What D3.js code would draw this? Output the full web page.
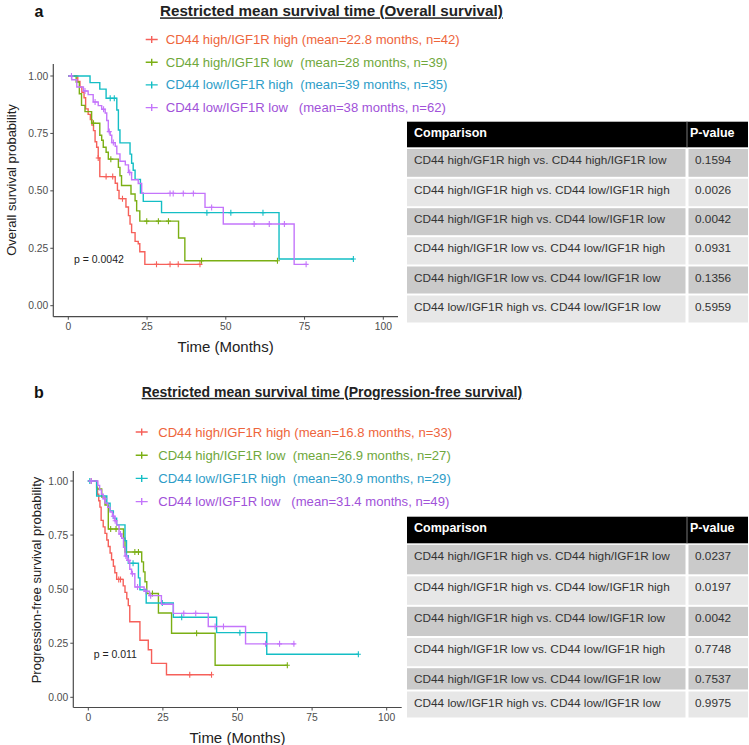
<!DOCTYPE html>
<html><head><meta charset="utf-8">
<script src="https://cdn.jsdelivr.net/npm/d3@7/dist/d3.min.js"></script>
<style>
body{margin:0;background:#fff}
text{font-family:Arial,"Liberation Sans",sans-serif}
</style>
</head><body>
<svg id="c" width="749" height="745"></svg>
<script>
// ---------------- DATA ----------------
const groups = ["CD44 high/IGF1R high", "CD44 high/IGF1R low", "CD44 low/IGF1R high", "CD44 low/IGF1R low"];
const groupGaps = [" ", "  ", "  ", "   "];
const osMeans = ["22.8", "28", "39", "38"];
const osN = [42, 39, 35, 62];
const pfsMeans = ["16.8", "26.9", "30.9", "31.4"];
const pfsN = [33, 27, 29, 49];
const xTicks = [0, 25, 50, 75, 100];
const yTicks = [0, 0.25, 0.5, 0.75, 1];
const yTickLabels = ["0.00", "0.25", "0.50", "0.75", "1.00"];

// Overall survival step curves (time in months, survival after each drop)
const osRedT = [0, 3.0, 3.7, 4.3, 5.0, 5.5, 6.3, 7.0, 7.5, 8.0, 8.5, 9.0, 9.5, 10.0, 14.9, 15.6, 16.1, 18.3, 19.1, 19.6, 20.1, 21.2, 22.2, 22.7, 24.3];
const osRedS = [1, 0.976, 0.952, 0.929, 0.905, 0.857, 0.833, 0.81, 0.786, 0.762, 0.714, 0.69, 0.643, 0.562, 0.533, 0.502, 0.466, 0.43, 0.392, 0.355, 0.318, 0.28, 0.27, 0.235, 0.18];
const osRedEnd = 41.8;
const osRedCens = [9.5, 12.0, 14.1, 17.2, 28.0, 32.3, 34.9, 41.8];

const osGreenT = [0, 2.5, 3.5, 4.2, 5.3, 7.4, 10.0, 10.6, 11.1, 12.0, 12.7, 15.9, 16.4, 16.9, 19.9, 21.2, 21.7, 22.7, 35.0, 37.0];
const osGreenS = [1, 0.974, 0.923, 0.872, 0.845, 0.794, 0.742, 0.72, 0.69, 0.668, 0.638, 0.602, 0.566, 0.523, 0.486, 0.457, 0.413, 0.368, 0.295, 0.196];
const osGreenEnd = 66.4;
const osGreenCens = [8.0, 13.5, 24.9, 28.6, 31.8, 42.3, 66.4];

const osCyanT = [0, 6.9, 10.0, 12.0, 15.4, 15.9, 16.4, 19.6, 20.1, 20.6, 21.2, 22.9, 23.8, 29.6, 66.9];
const osCyanS = [1, 0.971, 0.943, 0.903, 0.852, 0.765, 0.709, 0.66, 0.62, 0.59, 0.55, 0.49, 0.454, 0.405, 0.203];
const osCyanEnd = 90.5;
const osCyanCens = [13.3, 14.6, 44.0, 51.6, 61.8, 90.5];

const osPurpleT = [0, 1.1, 2.7, 4.8, 6.3, 7.9, 9.5, 10.6, 11.7, 12.2, 12.7, 13.3, 13.8, 14.9, 15.4, 16.4, 18.1, 19.1, 20.1, 22.2, 23.3, 43.4, 49.2, 71.7];
const osPurpleS = [1, 0.984, 0.952, 0.935, 0.919, 0.887, 0.871, 0.855, 0.839, 0.806, 0.758, 0.742, 0.71, 0.694, 0.661, 0.629, 0.613, 0.58, 0.548, 0.532, 0.489, 0.428, 0.356, 0.18];
const osPurpleEnd = 75.5;
const osPurpleCens = [1.0, 5.3, 8.5, 11.2, 13.0, 14.3, 19.5, 32.3, 33.3, 36.5, 39.7, 45.5, 59.0, 63.8, 68.6, 75.5];

// Progression-free survival step curves
const pfsRedT = [0, 2.8, 3.1, 3.5, 3.9, 4.3, 5.0, 5.6, 6.2, 6.7, 7.3, 7.8, 8.4, 8.9, 9.5, 11.7, 12.3, 12.9, 13.4, 13.9, 17.3, 20.1, 21.2, 26.2];
const pfsRedS = [1, 0.97, 0.939, 0.909, 0.879, 0.818, 0.788, 0.758, 0.727, 0.697, 0.667, 0.636, 0.606, 0.576, 0.545, 0.515, 0.485, 0.455, 0.424, 0.349, 0.264, 0.22, 0.157, 0.104];
const pfsRedEnd = 41.3;
const pfsRedCens = [1.0, 10.2, 10.8, 34.0, 41.3];

const pfsGreenT = [0, 2.8, 4.5, 5.6, 6.7, 11.8, 12.3, 17.9, 18.5, 19.0, 19.6, 23.5, 27.9, 42.5];
const pfsGreenS = [1, 0.963, 0.926, 0.889, 0.778, 0.735, 0.672, 0.626, 0.58, 0.534, 0.48, 0.39, 0.296, 0.148];
const pfsGreenEnd = 66.7;
const pfsGreenCens = [7.5, 9.3, 15.6, 16.8, 21.5, 36.3, 66.7];

const pfsCyanT = [0, 2.8, 6.2, 7.3, 8.4, 9.5, 12.3, 12.8, 13.4, 16.8, 17.3, 19.4, 28.5, 43.0, 59.8];
const pfsCyanS = [1, 0.931, 0.897, 0.862, 0.828, 0.797, 0.724, 0.655, 0.62, 0.552, 0.497, 0.436, 0.37, 0.299, 0.199];
const pfsCyanEnd = 90.5;
const pfsCyanCens = [0.5, 15.0, 24.8, 31.3, 50.8, 90.5];

const pfsPurpleT = [0, 3.2, 3.8, 4.4, 5.0, 5.6, 6.5, 7.3, 8.1, 8.9, 9.5, 10.3, 11.2, 11.8, 12.3, 13.0, 13.9, 14.5, 15.6, 18.7, 20.5, 24.5, 28.5, 40.2, 52.7];
const pfsPurpleS = [1, 0.98, 0.959, 0.939, 0.918, 0.898, 0.878, 0.857, 0.837, 0.816, 0.796, 0.755, 0.735, 0.694, 0.653, 0.633, 0.592, 0.571, 0.51, 0.49, 0.47, 0.43, 0.388, 0.327, 0.247];
const pfsPurpleEnd = 69.3;
const pfsPurpleCens = [1.0, 5.5, 8.4, 9.0, 10.8, 12.6, 13.5, 14.8, 16.5, 19.3, 20.9, 32.0, 36.0, 42.5, 45.3, 59.4, 64.1, 68.9];

const osPText = "p = 0.0042";
const pfsPText = "p = 0.011";
const pPos = [1.8, 0.2];

const osComparisons = ["CD44 high/GF1R high vs. CD44 high/IGF1R low", "CD44 high/IGF1R high vs. CD44 low/IGF1R high", "CD44 high/IGF1R high vs. CD44 low/IGF1R low", "CD44 high/IGF1R low vs. CD44 low/IGF1R high", "CD44 high/IGF1R low vs. CD44 low/IGF1R low", "CD44 low/IGF1R high vs. CD44 low/IGF1R low"];
const osPvalues = ["0.1594", "0.0026", "0.0042", "0.0931", "0.1356", "0.5959"];
const pfsComparisons = ["CD44 high/IGF1R high vs. CD44 high/IGF1R low", "CD44 high/IGF1R high vs. CD44 low/IGF1R high", "CD44 high/IGF1R high vs. CD44 low/IGF1R low", "CD44 high/IGF1R low vs. CD44 low/IGF1R high", "CD44 high/IGF1R low vs. CD44 low/IGF1R low", "CD44 low/IGF1R high vs. CD44 low/IGF1R low"];
const pfsPvalues = ["0.0237", "0.0197", "0.0042", "0.7748", "0.7537", "0.9975"];
const tableHeader = ["Comparison", "P-value"];

// ---------------- STYLE ----------------
const lineColors = ["#F6605A", "#7BAF14", "#14BEC5", "#C475FB"];
const textColors = ["#EE653C", "#6FA83C", "#2E9DC8", "#A152D9"];

const svg = d3.select("#c");

function drawPanel(o) {
  const g = svg.append("g");
  // panel letter and title
  g.append("text").attr("x", 39).attr("y", o.titleY).attr("dy", "0.35em")
    .attr("text-anchor", "middle").attr("font-weight", "bold").attr("font-size", 16).attr("fill", "#111").text(o.letter);
  g.append("text").attr("x", o.titleX).attr("y", o.titleY).attr("dy", "0.35em")
    .attr("font-weight", "bold").attr("font-size", o.titleSize).attr("fill", "#222")
    .attr("text-decoration", "underline").text(o.title);

  const x = d3.scaleLinear().domain([0, 100]).range(o.xRange);
  const y = d3.scaleLinear().domain([0, 1]).range(o.yRange);

  // axes
  const ax = g.append("g");
  ax.append("line").attr("x1", o.axisX).attr("x2", o.axisX).attr("y1", o.axisTop).attr("y2", o.axisY)
    .attr("stroke", "#4a4a4a").attr("stroke-width", 1.2);
  ax.append("line").attr("x1", o.axisX).attr("x2", o.axisRight).attr("y1", o.axisY).attr("y2", o.axisY)
    .attr("stroke", "#4a4a4a").attr("stroke-width", 1.2);
  yTicks.forEach((v, i) => {
    ax.append("line").attr("x1", o.axisX - 3).attr("x2", o.axisX).attr("y1", y(v)).attr("y2", y(v))
      .attr("stroke", "#4a4a4a").attr("stroke-width", 1);
    ax.append("text").attr("x", o.axisX - 5).attr("y", y(v)).attr("dy", "0.35em").attr("text-anchor", "end")
      .attr("font-size", 10.3).attr("fill", "#4d4d4d").text(yTickLabels[i]);
  });
  xTicks.forEach(v => {
    ax.append("line").attr("x1", x(v)).attr("x2", x(v)).attr("y1", o.axisY).attr("y2", o.axisY + 3)
      .attr("stroke", "#4a4a4a").attr("stroke-width", 1);
    ax.append("text").attr("x", x(v)).attr("y", o.axisY + 9.5).attr("dy", "0.35em").attr("text-anchor", "middle")
      .attr("font-size", 10.3).attr("fill", "#4d4d4d").text(v);
  });
  g.append("text").attr("transform", `translate(${o.yTitleX},${o.yTitleY}) rotate(-90)`)
    .attr("text-anchor", "middle").attr("dy", "0.35em").attr("font-size", 13).attr("fill", "#222").text(o.yTitle);
  g.append("text").attr("x", (o.axisX + o.axisRight) / 2).attr("y", o.axisY + 30).attr("dy", "0.35em")
    .attr("text-anchor", "middle").attr("font-size", 15).attr("fill", "#222").text("Time (Months)");

  // curves
  const line = d3.line().x(d => x(d[0])).y(d => y(d[1])).curve(d3.curveStepAfter);
  o.curves.forEach((c, i) => {
    const pts = c.T.map((t, k) => [t, c.S[k]]);
    pts.push([c.end, c.S[c.S.length - 1]]);
    g.append("path").datum(pts).attr("d", line).attr("fill", "none")
      .attr("stroke", lineColors[i]).attr("stroke-width", 1.4);
    const surv = t => { let s = 1; c.T.forEach((tt, k) => { if (tt <= t) s = c.S[k]; }); return s; };
    c.cens.forEach(t => {
      const cx = x(t), cy = y(surv(t));
      g.append("path").attr("d", `M${cx - 2.5},${cy}H${cx + 2.5}M${cx},${cy - 3}V${cy + 3}`)
        .attr("stroke", lineColors[i]).attr("stroke-width", 1.1);
    });
  });

  // p value
  g.append("text").attr("x", x(pPos[0])).attr("y", y(pPos[1])).attr("dy", "0.35em")
    .attr("font-size", 10.5).attr("fill", "#222").text(o.pText);

  // legend
  groups.forEach((name, i) => {
    const ly = o.legendY + i * o.legendStep;
    g.append("path").attr("d", `M${o.legendX - 6},${ly}H${o.legendX + 6}M${o.legendX},${ly - 3.5}V${ly + 3.5}`)
      .attr("stroke", lineColors[i]).attr("stroke-width", 1.4);
    g.append("text").attr("x", o.legendX + o.legendGap).attr("y", ly).attr("dy", "0.35em")
      .style("white-space", "pre").attr("font-size", 13.1).attr("fill", textColors[i])
      .text(`${name}${groupGaps[i]}(mean=${o.means[i]} months, n=${o.ns[i]})`);
  });

  // table
  const t = g.append("g");
  const tx0 = 407, tx1 = 748, tdiv = 687;
  t.append("rect").attr("x", tx0).attr("y", o.headTop).attr("width", tx1 - tx0).attr("height", o.headBot - o.headTop).attr("fill", "#000");
  t.append("line").attr("x1", tdiv).attr("x2", tdiv).attr("y1", o.headTop).attr("y2", o.headBot).attr("stroke", "#777").attr("stroke-width", 1);
  t.append("text").attr("x", 414).attr("y", o.headTop + 11).attr("dy", "0.35em").attr("font-weight", "bold")
    .attr("font-size", 12.5).attr("fill", "#fff").text(tableHeader[0]);
  t.append("text").attr("x", 690).attr("y", o.headTop + 11).attr("dy", "0.35em").attr("font-weight", "bold")
    .attr("font-size", 12.5).attr("fill", "#fff").text(tableHeader[1]);
  o.comps.forEach((cmp, i) => {
    const top = o.rowEdges[i] + 1, bot = o.rowEdges[i + 1] - 1;
    const fill = i % 2 === 0 ? "#cacaca" : "#e7e7e7";
    t.append("rect").attr("x", tx0).attr("y", top).attr("width", tdiv - 1.5 - tx0).attr("height", bot - top).attr("fill", fill);
    t.append("rect").attr("x", tdiv + 1.5).attr("y", top).attr("width", tx1 - tdiv - 1.5).attr("height", bot - top).attr("fill", fill);
    t.append("text").attr("x", 414).attr("y", top + 11).attr("dy", "0.35em").attr("font-size", 11.8)
      .attr("fill", "#333").text(cmp);
    t.append("text").attr("x", 695).attr("y", top + 11).attr("dy", "0.35em").attr("font-size", 11.8)
      .attr("fill", "#333").text(o.pvals[i]);
  });
}

drawPanel({
  letter: "a", title: "Restricted mean survival time (Overall survival)", titleX: 160, titleY: 11, titleSize: 15.2,
  xRange: [68.3, 383.3], yRange: [305.7, 76], axisX: 53.3, axisY: 316.7, axisTop: 64, axisRight: 398,
  yTitle: "Overall survival probability", yTitleX: 11, yTitleY: 180,
  curves: [
    {T: osRedT, S: osRedS, end: osRedEnd, cens: osRedCens},
    {T: osGreenT, S: osGreenS, end: osGreenEnd, cens: osGreenCens},
    {T: osCyanT, S: osCyanS, end: osCyanEnd, cens: osCyanCens},
    {T: osPurpleT, S: osPurpleS, end: osPurpleEnd, cens: osPurpleCens}],
  pText: osPText, means: osMeans, ns: osN, legendX: 151.7, legendGap: 14, legendY: 39.5, legendStep: 22.7,
  comps: osComparisons, pvals: osPvalues, headTop: 121.7, headBot: 147.3,
  rowEdges: [148, 177.8, 207.2, 236.2, 265.5, 294.5, 323.5]
});

drawPanel({
  letter: "b", title: "Restricted mean survival time (Progression-free survival)", titleX: 141.7, titleY: 392, titleSize: 14,
  xRange: [88.3, 386.7], yRange: [697.3, 481], axisX: 73.3, axisY: 707.5, axisTop: 471, axisRight: 401.7,
  yTitle: "Progression-free survival probability", yTitleX: 36.7, yTitleY: 580,
  curves: [
    {T: pfsRedT, S: pfsRedS, end: pfsRedEnd, cens: pfsRedCens},
    {T: pfsGreenT, S: pfsGreenS, end: pfsGreenEnd, cens: pfsGreenCens},
    {T: pfsCyanT, S: pfsCyanS, end: pfsCyanEnd, cens: pfsCyanCens},
    {T: pfsPurpleT, S: pfsPurpleS, end: pfsPurpleEnd, cens: pfsPurpleCens}],
  pText: pfsPText, means: pfsMeans, ns: pfsN, legendX: 141.7, legendGap: 16.5, legendY: 432, legendStep: 23.2,
  comps: pfsComparisons, pvals: pfsPvalues, headTop: 516.7, headBot: 543.3,
  rowEdges: [543.8, 575.3, 605.8, 637, 667.2, 690.5, 718.5]
});
</script>
</body></html>
